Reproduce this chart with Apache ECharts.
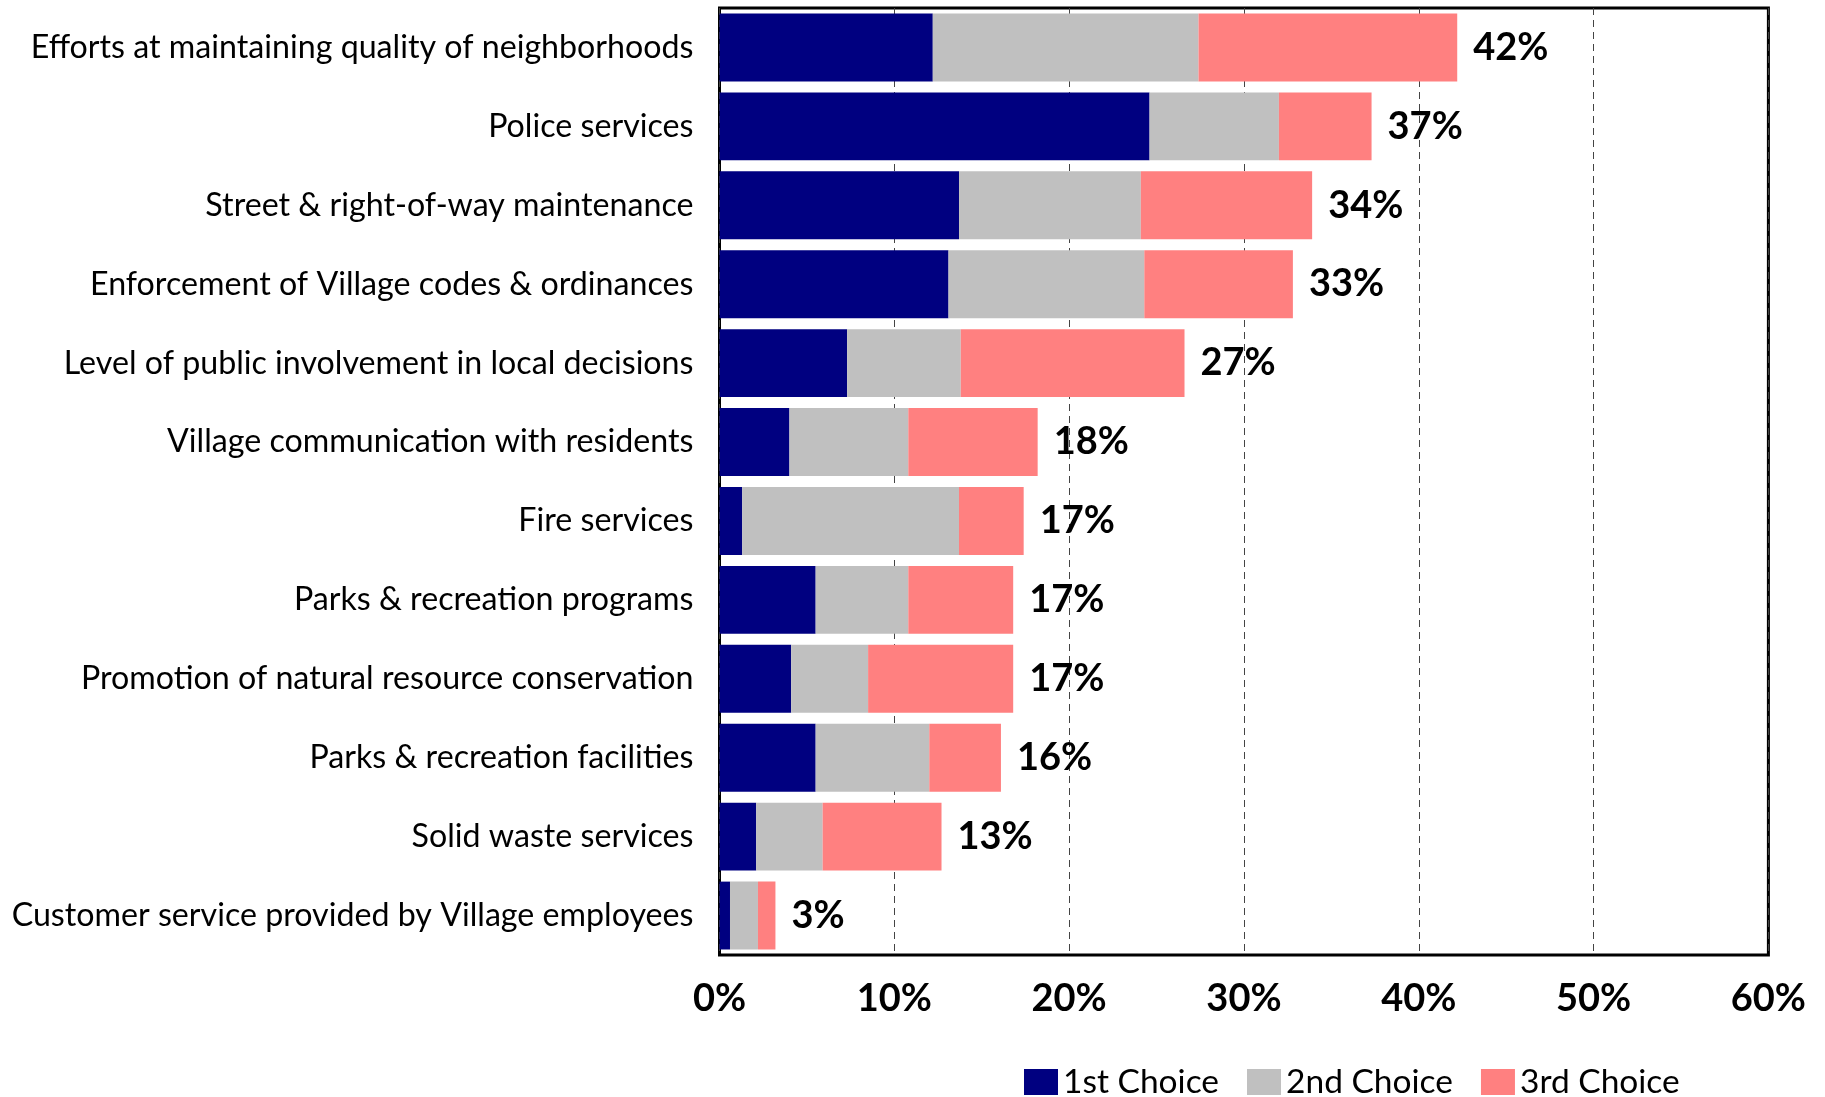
<!DOCTYPE html>
<html>
<head>
<meta charset="utf-8">
<script src="https://cdn.jsdelivr.net/npm/echarts@6/dist/echarts.min.js"></script>
<style>
  html, body { margin: 0; padding: 0; background: #ffffff; }
  #chart { width: 1825px; height: 1097px; }
</style>
</head>
<body>
<div id="chart"></div>
<script>
// Service areas, listed top to bottom
const categories = [
  'Efforts at maintaining quality of neighborhoods',
  'Police services',
  'Street & right-of-way maintenance',
  'Enforcement of Village codes & ordinances',
  'Level of public involvement in local decisions',
  'Village communication with residents',
  'Fire services',
  'Parks & recreation programs',
  'Promotion of natural resource conservation',
  'Parks & recreation facilities',
  'Solid waste services',
  'Customer service provided by Village employees'
];

// Share of respondents (%) choosing each service as 1st / 2nd / 3rd priority
const firstChoice  = [12.2, 24.6, 13.7, 13.1, 7.3, 4.0, 1.3, 5.5, 4.1, 5.5, 2.1, 0.6];
const secondChoice = [15.2,  7.4, 10.4, 11.2, 6.5, 6.8, 12.4, 5.3, 4.4, 6.5, 3.8, 1.6];
const thirdChoice  = [14.8,  5.3,  9.8,  8.5, 12.8, 7.4, 3.7, 6.0, 8.3, 4.1, 6.8, 1.0];

const seriesNames = ['1st Choice', '2nd Choice', '3rd Choice'];
const xTicks = [0, 10, 20, 30, 40, 50, 60];

const FONT = 'Lato, "Open Sans", sans-serif';

function totalFor(i) {
  return firstChoice[i] + secondChoice[i] + thirdChoice[i];
}

const chart = echarts.init(document.getElementById('chart'), null, { renderer: 'canvas' });

const barBase = {
  type: 'bar',
  stack: 'total',
  barCategoryGap: '14%',
  emphasis: { disabled: true }
};

chart.setOption({
  animation: false,
  backgroundColor: '#ffffff',
  textStyle: { fontFamily: FONT, color: '#000000' },
  grid: {
    left: 719.5,
    right: 56.6,
    top: 8,
    bottom: 142,
    show: true,
    borderColor: '#000000',
    borderWidth: 3,
    backgroundColor: 'transparent',
    containLabel: false
  },
  legend: {
    data: seriesNames,
    left: 1024,
    top: 1065,
    padding: 0,
    itemWidth: 34,
    itemHeight: 26,
    itemGap: 28,
    icon: 'rect',
    textStyle: { fontFamily: FONT, fontSize: 33.5, color: '#000000' }
  },
  xAxis: {
    type: 'value',
    min: xTicks[0],
    max: xTicks[xTicks.length - 1],
    interval: xTicks[1] - xTicks[0],
    axisLine: { show: false },
    axisTick: { show: false },
    splitLine: {
      show: true,
      lineStyle: { color: '#444444', width: 1, type: [7, 5] }
    },
    axisLabel: {
      formatter: '{value}%',
      fontFamily: FONT,
      fontSize: 38,
      fontWeight: 'bold',
      color: '#000000',
      margin: 25
    }
  },
  yAxis: {
    type: 'category',
    data: categories,
    inverse: true,
    axisLine: { show: false },
    axisTick: { show: false },
    splitLine: { show: false },
    axisLabel: {
      fontFamily: FONT,
      fontSize: 32.2,
      color: '#000000',
      margin: 26,
      padding: [4, 0, 0, 0]
    }
  },
  series: [
    Object.assign({}, barBase, {
      name: seriesNames[0],
      data: firstChoice,
      itemStyle: { color: '#000080' }
    }),
    Object.assign({}, barBase, {
      name: seriesNames[1],
      data: secondChoice,
      itemStyle: { color: '#C0C0C0' }
    }),
    Object.assign({}, barBase, {
      name: seriesNames[2],
      data: thirdChoice,
      itemStyle: { color: '#FF8080' },
      label: {
        show: true,
        position: 'right',
        distance: 16,
        fontFamily: FONT,
        fontSize: 38,
        fontWeight: 'bold',
        color: '#000000',
        padding: [4, 0, 0, 0],
        formatter: function (p) {
          return Math.round(totalFor(p.dataIndex)) + '%';
        }
      }
    })
  ]
});
</script>
</body>
</html>
